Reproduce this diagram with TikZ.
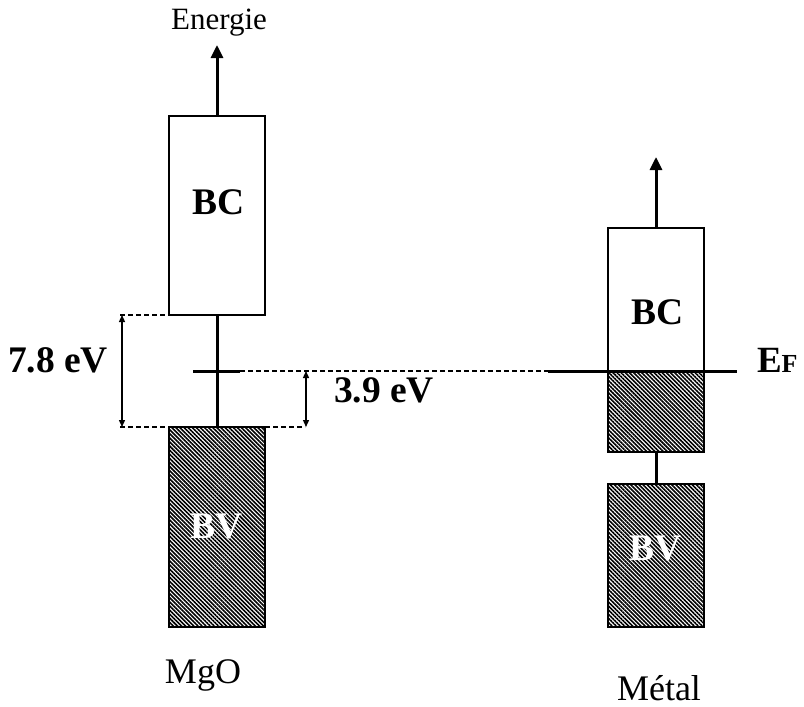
\documentclass[tikz,border=0pt]{standalone}
\usepackage{fontspec}
\setmainfont{Liberation Serif}
\usetikzlibrary{arrows.meta,patterns.meta}
\begin{document}
\begin{tikzpicture}[x=1pt,y=-1pt,
  box/.style={draw=black,line width=2pt,inner sep=0pt,outer sep=0pt,anchor=north west},
  hatched/.style={box,pattern={Lines[angle=-45,distance=2.9pt,line width=1.6pt]}},
  stem/.style={line width=3pt},
  guide/.style={dash pattern=on 5pt off 3pt,line width=1.3pt},
  dim/.style={line width=1.3pt,{Triangle[length=7pt,width=6pt]}-{Triangle[length=7pt,width=6pt]}},
  up/.style={line width=3pt,-{Triangle[length=13pt,width=12pt]}},
  lbl/.style={inner sep=0pt,outer sep=0pt},
  big/.style={lbl,font=\fontsize{36}{40}\selectfont},
  bigb/.style={lbl,font=\fontsize{37.5}{42}\selectfont\bfseries},
  bvlbl/.style={bigb,text=white}
]
\useasboundingbox (0,0) rectangle (804,707);

% ---------- MgO ----------
\node[box,minimum width=96pt,minimum height=199pt] (bc1) at (169,116) {};
\node[hatched,minimum width=96pt,minimum height=200pt] (bv1) at (169,427) {};
\coordinate (top1) at (217,45);
\draw[up] (bc1.north) -- (top1);
\node[lbl,font=\fontsize{31}{36}\selectfont,anchor=base] (energie) at (219,29) {Energie};
\draw[stem] (bc1.south) -- (bv1.north);
\coordinate (tickL) at (193,371);
\coordinate (tickR) at (240,371);
\draw[stem] (tickL) -- (tickR);

\node[bigb] (bclab1) at (219,202) {BC};
\node[bvlbl] (bvlab1) at (217,527) {BV};
\node[big,anchor=base] (mgo) at (203,683) {MgO};

% dimension guides
\coordinate (g1) at (120,315);
\coordinate (g2) at (120,427);
\coordinate (g3) at (305,427);
\draw[guide] (g1) -- (bc1.south west);
\draw[guide] (g2) -- (bv1.north west);
\draw[guide] (bv1.north east) -- (g3);
\coordinate (d1a) at (122,315);
\coordinate (d1b) at (122,427);
\draw[dim] (d1a) -- (d1b);
\coordinate (d2a) at (306,371);
\coordinate (d2b) at (306,427);
\draw[dim] (d2a) -- (d2b);
\node[bigb] (e78) at (58,360) {7.8 eV};
\node[bigb] (e39) at (384,390) {3.9 eV};

% ---------- Metal ----------
\node[box,minimum width=96pt,minimum height=143pt] (bc2) at (608,228) {};
\node[hatched,minimum width=96pt,minimum height=81pt] (fill2) at (608,371) {};
\node[hatched,minimum width=96pt,minimum height=143pt] (bv2) at (608,484) {};
\coordinate (top2) at (656,157);
\draw[up] (bc2.north) -- (top2);
\draw[stem] (fill2.south) -- (bv2.north);
\node[bigb] (bclab2) at (658,312) {BC};
\node[bvlbl] (bvlab2) at (656,549) {BV};
\node[big,anchor=base] (metal) at (659,700) {Métal};

% Fermi level
\coordinate (fL) at (548,371);
\coordinate (fR) at (737,371);
\draw[guide] (tickR) -- (fL);
\draw[stem] (fL) -- (fR);
\node[lbl,anchor=base west,font=\fontsize{37}{40}\selectfont\bfseries] (efE) at (757,372) {E};
\node[lbl,anchor=base west,font=\fontsize{26}{30}\selectfont\bfseries] (efF) at (efE.base east) {F};
\end{tikzpicture}
\end{document}
